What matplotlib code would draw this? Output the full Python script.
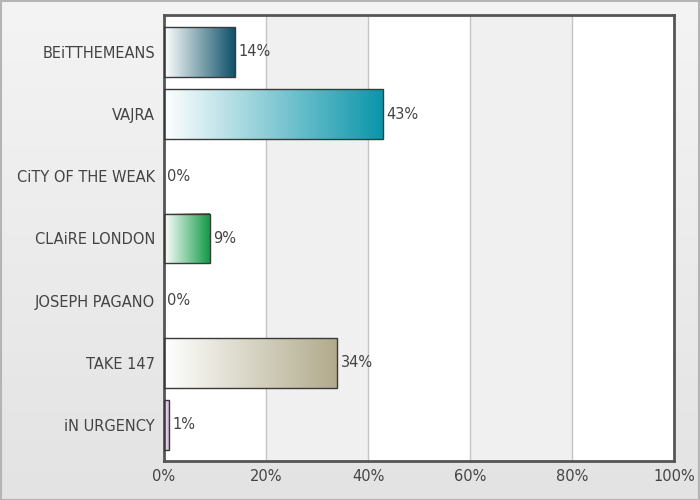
import numpy as np
import matplotlib
matplotlib.use("Agg")
import matplotlib.pyplot as plt
from matplotlib.colors import LinearSegmentedColormap
from matplotlib.patches import Rectangle

plt.rcParams["font.family"] = ["DejaVu Sans"]

categories = ["BEiTTHEMEANS", "VAJRA", "CiTY OF THE WEAK", "CLAiRE LONDON",
              "JOSEPH PAGANO", "TAKE 147", "iN URGENCY"]
values = [14, 43, 0, 9, 0, 34, 1]
bar_colors = ["#0b4f66", "#0a95aa", "#2f8f9a", "#139a48", "#888888", "#b1aa8b", "#c39ac6"]
ticks = [0, 20, 40, 60, 80, 100]

fig = plt.figure(figsize=(7, 5), dpi=100)

# background gradient of the whole figure
bg = fig.add_axes([0, 0, 1, 1], zorder=-10)
grad = np.linspace(0, 1, 256).reshape(-1, 1)
bg_cmap = LinearSegmentedColormap.from_list("bg", ["#f4f4f4", "#e3e3e3"])
bg.imshow(grad, cmap=bg_cmap, aspect="auto", extent=[0, 1, 0, 1])
bg.add_patch(Rectangle((0.001, 0.001), 0.998, 0.997, fill=False,
                       edgecolor="#b4b4b4", lw=1.5))
bg.set_xlim(0, 1)
bg.set_ylim(0, 1)
bg.axis("off")

ax = fig.add_axes([0.2343, 0.078, 0.7286, 0.892])
n = len(categories)

# alternating bands
for i in range(len(ticks) - 1):
    c = "#ffffff" if i % 2 == 0 else "#f0f0f0"
    ax.axvspan(ticks[i], ticks[i + 1], color=c, zorder=0, lw=0)
for t in ticks[1:-1]:
    ax.axvline(t, color="#c4c4c4", lw=1, zorder=1)

h = 0.8
for i, (v, col) in enumerate(zip(values, bar_colors)):
    if v > 0:
        cmap = LinearSegmentedColormap.from_list("b%d" % i, ["#ffffff", col])
        ax.imshow(np.linspace(0, 1, 256).reshape(1, -1), cmap=cmap, aspect="auto",
                  extent=[0, v, i + h / 2, i - h / 2], zorder=2)
        ax.barh(i, v, height=h, facecolor="none", edgecolor="#3a3a3a", lw=1, zorder=3)
    ax.text(v + 0.6, i, "%d%%" % v, va="center", ha="left", fontsize=10.5,
            color="#444444", zorder=4)

ax.set_xlim(0, 100)
ax.set_ylim(n - 1 + 0.58, -0.595)
ax.set_yticks(range(n))
ax.set_yticklabels(categories)
ax.set_xticks(ticks)
ax.set_xticklabels(["%d%%" % t for t in ticks])
ax.tick_params(length=0, labelsize=10.5, labelcolor="#444444", pad=6.5)
ax.tick_params(axis="x", pad=6)
for s in ax.spines.values():
    s.set_color("#555555")
    s.set_linewidth(2)

fig.savefig("out.png", dpi=100)
